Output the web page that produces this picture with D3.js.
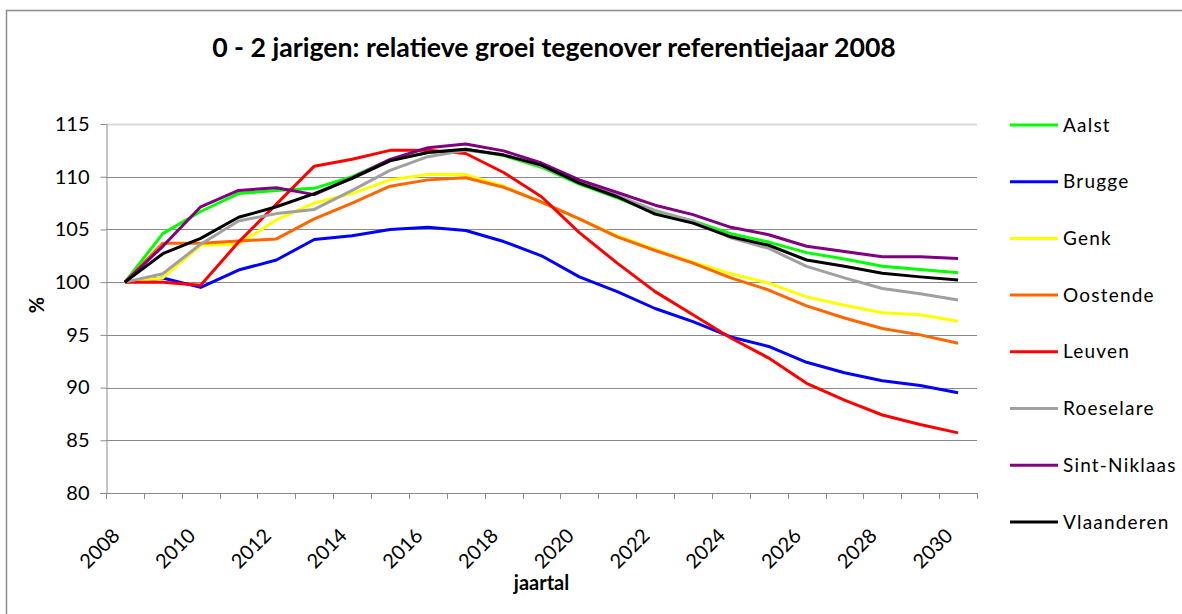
<!DOCTYPE html>
<html>
<head>
<meta charset="utf-8">
<script src="https://cdn.jsdelivr.net/npm/d3@7"></script>
<style>
  html, body { margin: 0; padding: 0; background: #fff; }
  svg { display: block; font-family: Lato, "Open Sans", sans-serif; }
</style>
</head>
<body>
<div id="chart"></div>
<script>
//////////////////////
//  main constants  //
//////////////////////
const WIDTH = 1182;
const HEIGHT = 614;
const PLOT = { LEFT: 106, RIGHT: 977, TOP: 124, BOTTOM: 493 };

const years = d3.range(2008, 2031);
const yTicks = [80, 85, 90, 95, 100, 105, 110, 115];

const aalst       = [100, 104.6, 106.7, 108.4, 108.7, 108.9, 110.0, 111.6, 112.3, 112.6, 112.0, 110.9, 109.3, 108.0, 106.6, 105.8, 104.6, 103.8, 102.8, 102.2, 101.5, 101.2, 100.9];
const brugge      = [100, 100.4, 99.5, 101.15, 102.1, 104.05, 104.4, 105.0, 105.2, 104.9, 103.85, 102.5, 100.5, 99.1, 97.5, 96.25, 94.8, 93.9, 92.4, 91.4, 90.65, 90.2, 89.5];
const genk        = [100, 100.4, 103.5, 103.6, 105.9, 107.5, 108.4, 109.7, 110.2, 110.2, 109.1, 107.6, 106.0, 104.4, 103.1, 101.9, 100.8, 99.9, 98.6, 97.8, 97.1, 96.9, 96.3];
const oostende    = [100, 103.7, 103.7, 103.9, 104.1, 106.0, 107.5, 109.1, 109.7, 109.9, 109.0, 107.6, 106.0, 104.3, 103.0, 101.8, 100.4, 99.25, 97.75, 96.6, 95.6, 95.0, 94.2];
const leuven      = [100, 100.0, 99.7, 103.8, 107.4, 111.0, 111.65, 112.5, 112.5, 112.2, 110.4, 108.1, 104.7, 101.8, 99.1, 96.9, 94.7, 92.8, 90.4, 88.8, 87.4, 86.5, 85.7];
const roeselare   = [100, 100.8, 103.6, 105.8, 106.5, 106.9, 108.7, 110.6, 111.9, 112.5, 112.1, 111.0, 109.5, 108.2, 106.8, 105.8, 104.2, 103.2, 101.5, 100.4, 99.4, 98.9, 98.3];
const sintNiklaas = [100, 103.4, 107.15, 108.7, 108.95, 108.3, 109.9, 111.65, 112.75, 113.1, 112.45, 111.3, 109.7, 108.5, 107.3, 106.4, 105.2, 104.5, 103.4, 102.9, 102.4, 102.4, 102.25];
const vlaanderen  = [100, 102.7, 104.15, 106.15, 107.15, 108.4, 109.85, 111.5, 112.3, 112.6, 112.05, 111.1, 109.4, 108.1, 106.45, 105.6, 104.3, 103.5, 102.1, 101.5, 100.85, 100.5, 100.2];

const seriesNames  = ["Aalst", "Brugge", "Genk", "Oostende", "Leuven", "Roeselare", "Sint-Niklaas", "Vlaanderen"];
const seriesValues = [aalst, brugge, genk, oostende, leuven, roeselare, sintNiklaas, vlaanderen];
const seriesColors = ["#00ff00", "#0000ff", "#ffff00", "#ff6600", "#ff0000", "#a0a0a0", "#800080", "#000000"];

const series = seriesNames.map((name, i) => ({
    name: name,
    color: seriesColors[i],
    values: years.map((yr, j) => ({ year: yr, value: seriesValues[i][j] }))
}));

/////////////////
//  main code  //
/////////////////
const svg = d3.select("#chart").append("svg")
    .attr("width", WIDTH)
    .attr("height", HEIGHT);

// chart area border
svg.append("rect")
    .attr("x", 6.5).attr("y", 10.5)
    .attr("width", WIDTH).attr("height", HEIGHT)
    .attr("fill", "none")
    .attr("stroke", "#8c8c8c")
    .attr("stroke-width", 1.5);

const x = d3.scaleBand()
    .domain(years)
    .range([PLOT.LEFT, PLOT.RIGHT])
    .padding(0);

const y = d3.scaleLinear()
    .domain([80, 115])
    .range([PLOT.BOTTOM, PLOT.TOP]);

// gridlines
svg.append("g")
    .selectAll("line")
    .data(yTicks.filter(d => d > 80))
    .join("line")
    .attr("x1", PLOT.LEFT).attr("x2", PLOT.RIGHT)
    .attr("y1", d => Math.round(y(d)) + 0.5)
    .attr("y2", d => Math.round(y(d)) + 0.5)
    .attr("stroke", d => d === 115 ? "#d9d9d9" : "#8a8a8a")
    .attr("stroke-width", d => d === 115 ? 2 : 1);

// y axis
const yAxis = svg.append("g")
    .attr("transform", `translate(${PLOT.LEFT + 0.5},0)`)
    .call(d3.axisLeft(y).tickValues(yTicks).tickSize(6).tickSizeOuter(0).tickPadding(11));
yAxis.select(".domain").attr("stroke", "#8a8a8a");
yAxis.selectAll(".tick line").attr("stroke", "#8a8a8a");
yAxis.selectAll(".tick text")
    .attr("font-size", 20)
    .attr("fill", "#000")
    .attr("font-family", "Lato, sans-serif");

// x axis: line, tick marks between categories
const xAxis = svg.append("g");
xAxis.append("line")
    .attr("x1", PLOT.LEFT - 6).attr("x2", PLOT.RIGHT)
    .attr("y1", PLOT.BOTTOM + 0.5).attr("y2", PLOT.BOTTOM + 0.5)
    .attr("stroke", "#8a8a8a");
const boundaries = years.map(d => x(d)).concat([x(years[years.length - 1]) + x.bandwidth()]);
xAxis.selectAll(".xtick")
    .data(boundaries)
    .join("line")
    .attr("class", "xtick")
    .attr("x1", d => Math.round(d) + 0.5).attr("x2", d => Math.round(d) + 0.5)
    .attr("y1", PLOT.BOTTOM).attr("y2", PLOT.BOTTOM + 6)
    .attr("stroke", "#8a8a8a");
xAxis.selectAll(".xlabel")
    .data(years.filter((d, i) => i % 2 === 0))
    .join("text")
    .attr("class", "xlabel")
    .attr("transform", d => `translate(${x(d) + x.bandwidth() / 2 - 9},${PLOT.BOTTOM + 39}) rotate(-45)`)
    .attr("text-anchor", "end")
    .attr("dy", "0.35em")
    .attr("font-size", 20)
    .text(d => d);

// axis titles
svg.append("text")
    .attr("x", (PLOT.LEFT + PLOT.RIGHT) / 2)
    .attr("y", 583)
    .attr("dy", "0.35em")
    .attr("text-anchor", "middle")
    .attr("font-weight", "bold")
    .attr("font-size", 20)
    .text("jaartal");

svg.append("text")
    .attr("transform", "translate(37,305) rotate(-90)")
    .attr("dy", "0.35em")
    .attr("text-anchor", "middle")
    .attr("font-weight", "bold")
    .attr("font-size", 20)
    .text("%");

// title, sized to the reference width
const title = svg.append("text")
    .attr("x", 554)
    .attr("y", 48)
    .attr("dy", "0.35em")
    .attr("text-anchor", "middle")
    .attr("font-weight", "bold")
    .attr("font-size", 22)
    .text("0 - 2 jarigen: relatieve groei tegenover referentiejaar 2008");
const tw = title.node().getComputedTextLength();
title.attr("font-size", 22 * 684 / tw);

// lines
const line = d3.line()
    .x(d => x(d.year) + x.bandwidth() / 2)
    .y(d => y(d.value));

svg.append("g")
    .selectAll("path")
    .data(series)
    .join("path")
    .attr("d", d => line(d.values))
    .attr("fill", "none")
    .attr("stroke", d => d.color)
    .attr("stroke-width", 3)
    .attr("stroke-linejoin", "round");

// legend
const legend = svg.append("g")
    .selectAll("g")
    .data(series)
    .join("g")
    .attr("transform", (d, i) => `translate(1010,${125 + i * 56.7})`);
legend.append("line")
    .attr("x1", 0).attr("x2", 48)
    .attr("stroke", d => d.color)
    .attr("stroke-width", 3);
legend.append("text")
    .attr("x", 53)
    .attr("dy", "0.35em")
    .attr("font-size", 19)
    .attr("letter-spacing", 1.2)
    .text(d => d.name);
</script>
</body>
</html>
